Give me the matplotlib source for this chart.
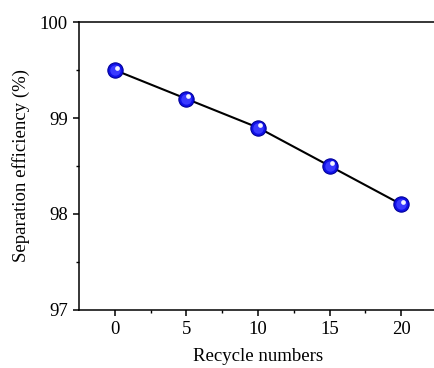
import numpy as np
import matplotlib
matplotlib.use('Agg')
import matplotlib.pyplot as plt
import matplotlib.transforms as mtransforms

#--------------------------------
cycles     = [0, 5, 10, 15, 20]
efficiency = [99.5, 99.2, 98.9, 98.5, 98.1]
xticks     = [0, 5, 10, 15, 20]
yticks     = [97, 98, 99, 100]

#--------------------------------
plt.rcParams['font.family'] = ['Liberation Serif', 'DejaVu Serif']
plt.rcParams['font.size'] = 13.5

fig = plt.figure(figsize=(4.34, 3.68), dpi=100, facecolor='w')
ax  = fig.add_axes([0.182, 0.158, 0.825, 0.782])

ax.plot(cycles, efficiency, color='k', lw=1.5, zorder=2)
ax.plot(cycles, efficiency, ls='none', marker='o', ms=11,
        mfc='#1010e8', mec='#00009a', mew=0.8, zorder=3)
ax.plot(cycles, efficiency, ls='none', marker='o', ms=7.5,
        mfc='#3a3aff', mec='none', zorder=4)
# small highlight on the spheres
shift = mtransforms.ScaledTranslation(1.5/72, 1.8/72, fig.dpi_scale_trans)
ax.plot(cycles, efficiency, ls='none', marker='o', ms=3.4,
        mfc='#f4f4ff', mec='none', zorder=5, transform=ax.transData + shift)

ax.set_xlim(-2.5, 22.5)
ax.set_ylim(97, 100)
ax.set_xticks(xticks)
ax.set_yticks(yticks)
ax.set_xticks([2.5, 7.5, 12.5, 17.5], minor=True)
ax.set_yticks([97.5, 98.5, 99.5], minor=True)

ax.tick_params(which='major', direction='out', length=4, width=1.1, labelsize=13.5, pad=4)
ax.tick_params(which='minor', direction='out', length=2.5, width=1.0)
for s in ax.spines.values():
    s.set_linewidth(1.1)
ax.spines['right'].set_visible(False)

ax.set_xlabel('Recycle numbers', fontsize=13.5, labelpad=7)
ax.set_ylabel('Separation efficiency (%)', fontsize=13.5, labelpad=7)

fig.savefig('out.png', dpi=100)
